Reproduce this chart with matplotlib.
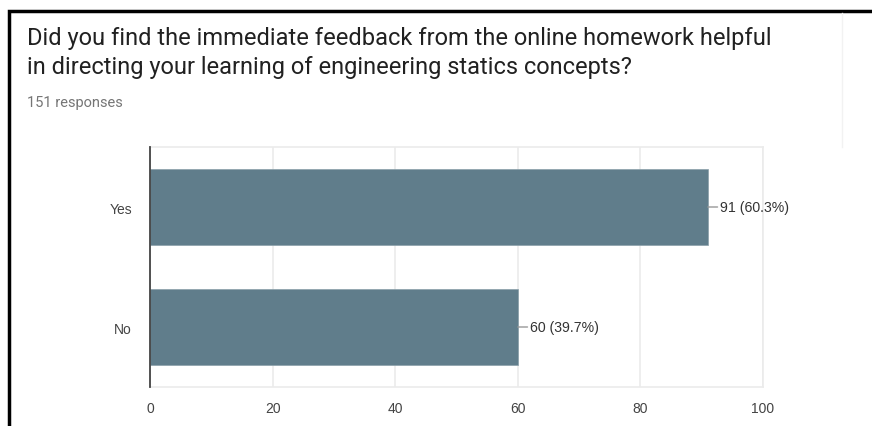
import matplotlib.pyplot as plt
from matplotlib.patches import Rectangle
from matplotlib.lines import Line2D

answers = ["No", "Yes"]
counts = [60, 91]
labels = ["60 (39.7%)", "91 (60.3%)"]
xticks = [0, 20, 40, 60, 80, 100]

title = ("Did you find the immediate feedback from the online homework helpful\n"
         "in directing your learning of engineering statics concepts?")
subtitle = "151 responses"

fig = plt.figure(figsize=(8.72, 4.27), dpi=100)
ax = fig.add_axes([150/872, 1-388/427, (763-150)/872, (388-148)/427])

ypos = list(range(len(answers)))
ax.barh(ypos, counts, height=0.63, color="#607d8b", edgecolor="#8aa0aa",
        linewidth=0.5, zorder=3)

for y, v, lab in zip(ypos, counts, labels):
    ax.annotate(lab, xy=(v, y), xytext=(9, 0), textcoords="offset points",
                va="center", ha="left", fontsize=10.2, color="#333333",
                family="Liberation Sans",
                arrowprops=dict(arrowstyle="-", color="#999999", lw=1,
                                shrinkA=0, shrinkB=0))

ax.set_xlim(0, 100)
ax.set_ylim(-0.5, 1.5)
ax.set_xticks(xticks)
ax.set_yticks(ypos)
ax.set_yticklabels(answers)
ax.grid(axis="x", color="#ebebeb", lw=1.2, zorder=0)
for s in ["top", "right", "bottom"]:
    ax.spines[s].set_color("#ebebeb")
    ax.spines[s].set_linewidth(1.2)
ax.spines["left"].set_color("#444444")
ax.spines["left"].set_linewidth(1.3)
ax.spines["left"].set_zorder(4)
ax.tick_params(length=0, labelsize=10, labelcolor="#444444", pad=10)
ax.tick_params(axis="y", pad=13)
for t in ax.get_xticklabels() + ax.get_yticklabels():
    t.set_family("Liberation Sans")

fig.text(27/872, 1-27/427, title, fontsize=17, family="Roboto",
         color="#212121", va="top", ha="left", linespacing=1.35)
fig.text(27/872, 1-103/427, subtitle, fontsize=10.5, family="Roboto",
         color="#757575", va="center", ha="left")

# screenshot frame
fig.add_artist(Rectangle((9/872, -0.1), 1.0, 1.1 - 11.5/427,
                         transform=fig.transFigure, fill=False,
                         edgecolor="black", lw=2.5))
fig.add_artist(Line2D([842/872, 842/872], [1-14/427, 1-148/427],
                      transform=fig.transFigure, color="#f2f2f2", lw=1))

fig.savefig("out.png", dpi=100)
